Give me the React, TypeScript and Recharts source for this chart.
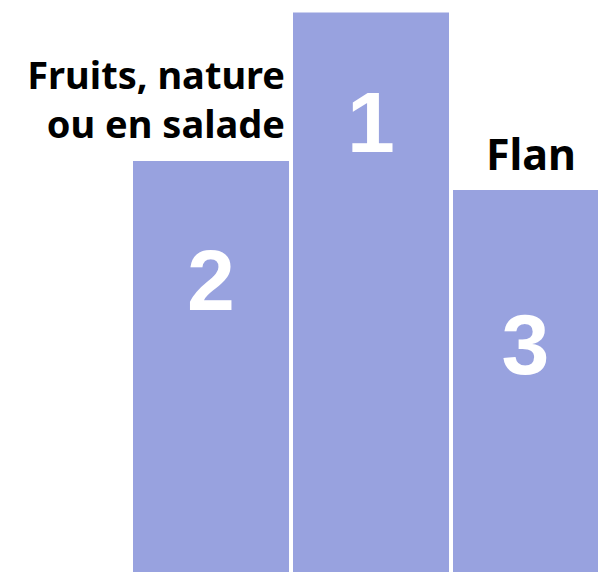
import { Bar, BarChart, LabelList, XAxis, YAxis } from "recharts";

const categories = ["Fruits, nature ou en salade", "", "Flan"];
const labelLines = [["Fruits, nature", "ou en salade"], [], ["Flan"]];
const ranks = [2, 1, 3];
const scores = [33.05, 45, 30.72];

const data = categories.map((name, i) => ({ name, score: scores[i], rank: ranks[i], lines: labelLines[i] }));

const VIEW_W = 598;
const nameAnchor = ["end", "middle", "middle"] as const;
const digitDrop = [149, 139.5, 184];

function NameLabel(props: any) {
  const { x, y, width, index } = props;
  const lines: string[] = labelLines[index] ?? [];
  const anchor = nameAnchor[index];
  const tx = anchor === "end" ? x + width - 4 : x + width / 2;
  const lastBaseline = y - (index === 2 ? 20 : 23);
  const lh = 49;
  const size = index === 2 ? 43 : 38;
  return (
    <text textAnchor={anchor} fontFamily="Noto Sans" fontWeight={700} fontSize={size} fill="#000">
      {lines.map((l, k) => (
        <tspan key={k} x={tx} y={lastBaseline - (lines.length - 1 - k) * lh}>
          {l}
        </tspan>
      ))}
    </text>
  );
}

function RankLabel(props: any) {
  const { x, y, width, index } = props;
  const right = Math.min(x + width, VIEW_W);
  const cx = (x + right) / 2;
  return (
    <text x={cx} y={y + digitDrop[index]} textAnchor="middle" fontFamily="Liberation Sans" fontWeight={700} fontSize={86} fill="#fff">
      {ranks[index]}
    </text>
  );
}

export default function App() {
  return (
    <div style={{ position: "absolute", left: 0, top: 0, width: VIEW_W, height: 572, overflow: "hidden", background: "#fff" }}>
      <BarChart width={611} height={572} data={data} margin={{ top: 0, right: 0, left: 131, bottom: 0 }}>
        <XAxis dataKey="name" hide />
        <YAxis hide domain={[0, 46]} />
        <Bar dataKey="score" fill="#98A2DF" barSize={156} isAnimationActive={false}>
          <LabelList dataKey="name" content={<NameLabel />} />
          <LabelList dataKey="rank" content={<RankLabel />} />
        </Bar>
      </BarChart>
    </div>
  );
}
